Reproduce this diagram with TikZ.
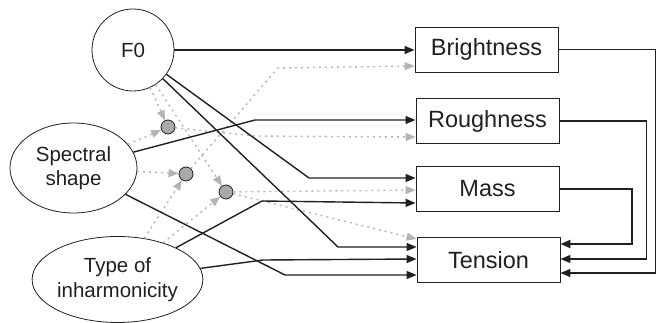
\documentclass[tikz,border=0pt]{standalone}
\usepackage{fontspec}
\setmainfont{Liberation Sans}
\usetikzlibrary{arrows.meta,shapes.geometric}
\definecolor{ink}{HTML}{231F20}
\definecolor{dgray}{HTML}{B4B4B4}
\definecolor{dotfill}{HTML}{A9A9A9}
\begin{document}
\begin{tikzpicture}[x=1pt,y=-1pt,
  every node/.style={text=ink},
  inbox/.style={draw=ink, line width=0.9pt, minimum width=143pt, minimum height=45pt, inner sep=0pt, font=\fontsize{23.5}{26}\selectfont},
  oval/.style={ellipse, draw=ink, line width=0.8pt, inner sep=0pt, align=center, font=\fontsize{20.5}{24.5}\selectfont},
  hub/.style={circle, draw=ink, fill=dotfill, line width=0.8pt, minimum size=14pt, inner sep=0pt},
  solidlink/.style={draw=ink, line width=1.4pt, -{Triangle[length=10pt,width=8pt]}},
  dashlink/.style={draw=dgray, line width=1.4pt, dash pattern=on 2pt off 4pt, -{Triangle[length=10pt,width=8pt]}},
]
\useasboundingbox (0,0) rectangle (662,323);

% source nodes
\node[circle, draw=ink, line width=0.8pt, minimum size=82pt, inner sep=0pt, font=\fontsize{20.5}{24.5}\selectfont] (F0) at (133,50) {F0};
\node[oval, minimum width=127pt, minimum height=90pt] (S) at (73.5,168) {Spectral\\shape};
\node[oval, minimum width=169pt, minimum height=86pt] (Ty) at (117.5,279.5) {Type of\\inharmonicity};

% hubs
\node[hub] (c1) at (168,127) {};
\node[hub] (c2) at (186,174) {};
\node[hub] (c3) at (226,192) {};

% target boxes
\node[inbox] (B) at (486.5,49.5) {Brightness};
\node[inbox] (R) at (487.5,121) {Roughness};
\node[inbox] (M) at (487.5,189) {Mass};
\node[inbox] (T) at (488.5,260) {Tension};

% dashed gray links
\draw[dashlink] (F0) -- (c1);
\draw[dashlink] (S) -- (c1);
\draw[dashlink] (c1) -- (255,136) -- (R.west |- 0,137);
\draw[dashlink] (S) -- (c2);
\draw[dashlink] (Ty) -- (c2);
\draw[dashlink] (c2) -- (278,68) -- (B.west |- 0,66);
\draw[dashlink] (F0) -- (c3);
\draw[dashlink] (Ty) -- (c3);
\draw[dashlink] (c3) -- (M.west |- 0,190);
\draw[dashlink] (c3) -- (T.west |- 0,239);

% solid links
\draw[solidlink] (F0.east) -- (B.west |- F0.east);
\draw[solidlink] (S) -- (255,120) -- (R.west |- 0,120);
\draw[solidlink] (F0) -- (309,178) -- (M.west |- 0,178);
\draw[solidlink] (F0) -- (338,247) -- (T.west |- 0,247);
\draw[solidlink] (S) -- (285,275) -- (T.west |- 0,275);
\draw[solidlink] (Ty) -- (262,201) -- (M.west |- 0,203);
\draw[solidlink] (Ty) -- (263,260) -- (T.west |- 0,259);

% feedback links
\draw[solidlink] (B.east) -- ++(97,0) |- (T.east |- 0,273);
\draw[solidlink] (R.east) -- ++(87,0) |- (T.east |- 0,259);
\draw[solidlink, line width=2pt] (M.east) -- ++(73,0) |- (T.east |- 0,244);
\end{tikzpicture}
\end{document}
